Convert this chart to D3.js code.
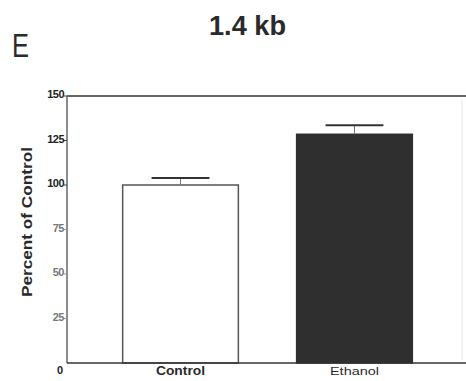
<!DOCTYPE html>
<html>
<head>
<meta charset="utf-8">
<script src="https://cdn.jsdelivr.net/npm/d3@7"></script>
<style>
  body { margin: 0; background: #fff; }
  svg { display: block; }
</style>
</head>
<body>
<div id="chart"></div>
<script>
const categories = ['Control', 'Ethanol']
const means = [100, 128.5]
const errors = [4, 5]
const barFills = ['#ffffff', '#2f2f2f']
const yTicks = [0, 25, 50, 75, 100, 125, 150]

const W = 466
const H = 381

const x0 = 67
const yBottom = 363
const yTop = 96

const svg = d3.select('#chart').append('svg').attr('width', W).attr('height', H)

const x = d3.scaleBand().domain(categories).range([x0, 468]).paddingInner(0.335).paddingOuter(0.32)
const y = d3.scaleLinear().domain([0, 150]).range([yBottom, yTop])

const ink = '#2a2a2a'

// panel letter + title
svg.append('text')
  .attr('x', 12).attr('y', 57)
  .attr('font-family', 'Liberation Sans, Arial, sans-serif')
  .attr('font-size', 34)
  .attr('fill', ink)
  .attr('textLength', 17).attr('lengthAdjust', 'spacingAndGlyphs')
  .text('E')

svg.append('text')
  .attr('x', 247.5).attr('y', 35)
  .attr('text-anchor', 'middle')
  .attr('font-family', 'Liberation Sans, Arial, sans-serif')
  .attr('font-size', 27)
  .attr('font-weight', 'bold')
  .attr('fill', ink)
  .attr('textLength', 77).attr('lengthAdjust', 'spacingAndGlyphs')
  .text('1.4 kb')

// frame lines
svg.append('line')
  .attr('x1', x0).attr('x2', W).attr('y1', y(150)).attr('y2', y(150))
  .attr('stroke', '#333').attr('stroke-width', 1.5)
svg.append('line')
  .attr('x1', 462).attr('x2', 462).attr('y1', y(148)).attr('y2', y(2))
  .attr('stroke', '#e6e6e6').attr('stroke-width', 1)

// bars
const g = svg.append('g')
categories.forEach((c, i) => {
  g.append('rect')
    .attr('x', x(c))
    .attr('y', y(means[i]))
    .attr('width', x.bandwidth())
    .attr('height', y(0) - y(means[i]))
    .attr('fill', barFills[i])
    .attr('stroke', i === 0 ? '#555' : '#2f2f2f')
    .attr('stroke-width', 1.5)

  const cx = x(c) + x.bandwidth() / 2
  const cap = x.bandwidth() / 4
  g.append('line')
    .attr('x1', cx).attr('x2', cx)
    .attr('y1', y(means[i])).attr('y2', y(means[i] + errors[i]))
    .attr('stroke', '#777').attr('stroke-width', 1)
  g.append('line')
    .attr('x1', cx - cap).attr('x2', cx + cap)
    .attr('y1', y(means[i] + errors[i])).attr('y2', y(means[i] + errors[i]))
    .attr('stroke', '#333').attr('stroke-width', 2)
})

// y axis
svg.append('line')
  .attr('x1', x0).attr('x2', x0).attr('y1', y(150)).attr('y2', y(0))
  .attr('stroke', '#666').attr('stroke-width', 1.5)

// x axis line
svg.append('line')
  .attr('x1', x0).attr('x2', W).attr('y1', y(0)).attr('y2', y(0))
  .attr('stroke', '#333').attr('stroke-width', 1.5)

const tickG = svg.append('g')
yTicks.forEach((t) => {
  if (t === 0) {
    tickG.append('text')
      .attr('x', 60).attr('y', y(0) + 11)
      .attr('text-anchor', 'middle')
      .attr('font-family', 'Liberation Sans, Arial, sans-serif')
      .attr('font-size', 11).attr('font-weight', 'bold')
      .attr('fill', '#222')
      .text(t)
    return
  }
  const light = t <= 75
  tickG.append('line')
    .attr('x1', x0 - 3).attr('x2', x0).attr('y1', y(t)).attr('y2', y(t))
    .attr('stroke', light ? '#999' : '#444').attr('stroke-width', 1)
  tickG.append('text')
    .attr('x', x0 - 3).attr('y', y(t) + 2)
    .attr('text-anchor', 'end')
    .attr('font-family', 'Liberation Sans, Arial, sans-serif')
    .attr('font-size', 11).attr('font-weight', 'bold')
    .attr('fill', light ? '#777' : '#222')
    .attr('letter-spacing', -0.5)
    .text(t)
})

// y label
svg.append('text')
  .attr('transform', `translate(32, 222) rotate(-90)`)
  .attr('text-anchor', 'middle')
  .attr('font-family', 'Liberation Sans, Arial, sans-serif')
  .attr('font-size', 15).attr('font-weight', 'bold')
  .attr('fill', ink)
  .attr('textLength', 150).attr('lengthAdjust', 'spacingAndGlyphs')
  .text('Percent of Control')

// category labels
categories.forEach((c, i) => {
  svg.append('text')
    .attr('x', x(c) + x.bandwidth() / 2)
    .attr('y', y(0) + 12)
    .attr('text-anchor', 'middle')
    .attr('font-family', 'Liberation Sans, Arial, sans-serif')
    .attr('font-size', i === 0 ? 12 : 11)
    .attr('font-weight', i === 0 ? 'bold' : 'normal')
    .attr('fill', ink)
    .attr('textLength', 49).attr('lengthAdjust', 'spacingAndGlyphs')
    .text(c)
})
</script>
</body>
</html>
